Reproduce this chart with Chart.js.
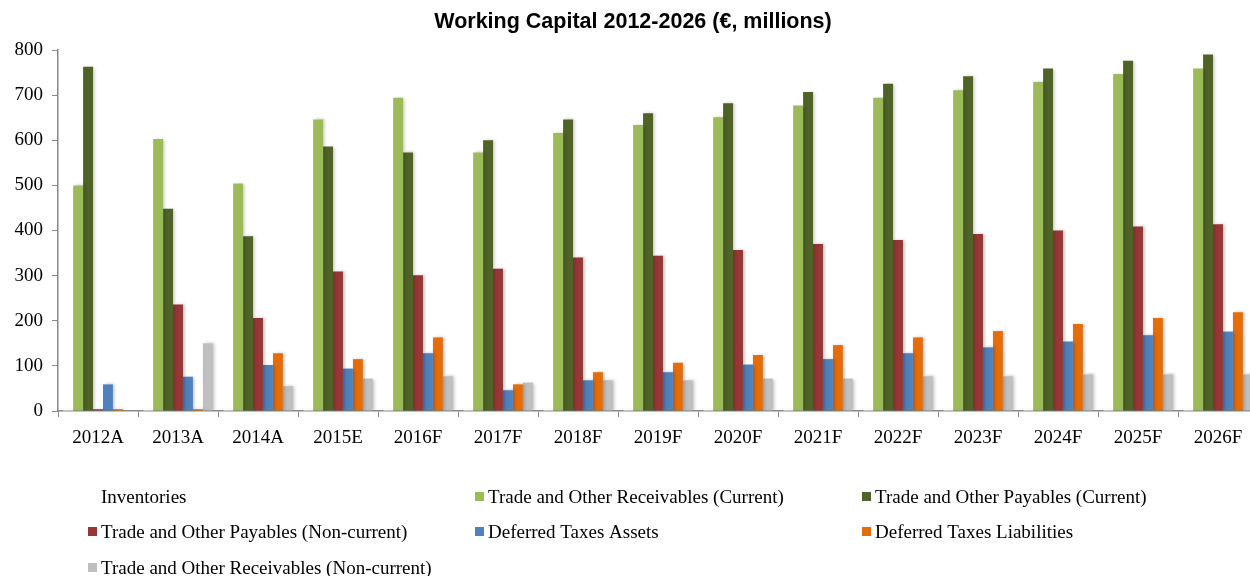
<!DOCTYPE html>
<html>
<head>
<meta charset="utf-8">
<title>Working Capital 2012-2026</title>
<script src="https://cdn.jsdelivr.net/npm/chart.js@4.4.1/dist/chart.umd.min.js"></script>
<style>
  html, body { margin: 0; padding: 0; background: #fff; overflow: hidden; }
  #wrap { width: 1262px; height: 576px; }
</style>
</head>
<body>
<div id="wrap"><canvas id="wcChart" width="1262" height="576"></canvas></div>
<script>
// years on the x axis
const years = ["2012A", "2013A", "2014A", "2015E", "2016F", "2017F", "2018F", "2019F",
  "2020F", "2021F", "2022F", "2023F", "2024F", "2025F", "2026F"];

// € millions per year
const inventories      = [3, 3, 3, 3, 3, 3, 3, 3, 3, 3, 3, 3, 3, 3, 3];
const receivablesCur   = [500, 603, 504, 646, 694, 573, 616, 634, 651, 677, 694, 711, 729, 747, 759];
const payablesCur      = [763, 448, 387, 586, 573, 600, 646, 660, 682, 707, 725, 742, 759, 776, 790];
const payablesNonCur   = [4, 236, 206, 309, 301, 315, 340, 344, 357, 370, 379, 392, 400, 409, 414];
const taxAssets        = [59, 76, 102, 94, 128, 46, 68, 86, 103, 115, 128, 141, 154, 168, 176];
const taxLiabilities   = [4, 4, 128, 115, 163, 59, 86, 107, 124, 146, 163, 177, 193, 206, 219];
const receivablesNonCur = [0, 150, 55, 72, 77, 63, 68, 68, 72, 72, 77, 77, 81, 81, 81];

const yTicks = { min: 0, max: 800, step: 100 };

const series = [
  { label: "Inventories", data: inventories, color: "#ffffff" },
  { label: "Trade and Other Receivables (Current)", data: receivablesCur, color: "#9bbb59" },
  { label: "Trade and Other Payables (Current)", data: payablesCur, color: "#4f6228" },
  { label: "Trade and Other Payables (Non-current)", data: payablesNonCur, color: "#953735" },
  { label: "Deferred Taxes Assets", data: taxAssets, color: "#4f81bd" },
  { label: "Deferred Taxes Liabilities", data: taxLiabilities, color: "#e46c0a" },
  { label: "Trade and Other Receivables (Non-current)", data: receivablesNonCur, color: "#bfbfbf" }
];

const serif = "'Liberation Serif', 'Times New Roman', serif";

// soft drop shadow behind the bars
const barShadow = {
  id: "barShadow",
  beforeDatasetsDraw(chart) {
    const ctx = chart.ctx;
    ctx.save();
    ctx.shadowColor = "rgba(0,0,0,0.22)";
    ctx.shadowBlur = 3;
    ctx.shadowOffsetX = 2;
    ctx.shadowOffsetY = 0;
  },
  afterDatasetsDraw(chart) {
    chart.ctx.restore();
  }
};

// title + three-column legend under the axis
const titleAndLegend = {
  id: "titleAndLegend",
  afterDraw(chart) {
    const ctx = chart.ctx;
    ctx.save();
    ctx.fillStyle = "#000";
    ctx.font = "bold 21.5px 'Liberation Sans', Arial, sans-serif";
    ctx.textAlign = "center";
    ctx.textBaseline = "middle";
    ctx.fillText("Working Capital 2012-2026 (€, millions)", 633, 22);

    const colBox = [88, 475, 862];
    const rowY = [496, 531, 567];
    ctx.font = "19px " + serif;
    ctx.textAlign = "left";
    chart.data.datasets.forEach((ds, i) => {
      const c = i % 3, r = Math.floor(i / 3);
      const x = colBox[c], y = rowY[r] + 2;
      ctx.fillStyle = ds.backgroundColor;
      ctx.fillRect(x, y - 6, 9, 9);
      ctx.fillStyle = "#000";
      ctx.fillText(ds.label, x + 13, y);
    });
    ctx.restore();
  }
};

new Chart(document.getElementById("wcChart"), {
  type: "bar",
  data: {
    labels: years,
    datasets: series.map(s => ({
      label: s.label,
      data: s.data,
      backgroundColor: s.color,
      borderWidth: 0,
      categoryPercentage: 0.87,
      barPercentage: 1.0
    }))
  },
  options: {
    responsive: false,
    animation: false,
    layout: { padding: { top: 50, left: 0, right: 4, bottom: 115 } },
    plugins: {
      legend: { display: false },
      title: { display: false },
      tooltip: { enabled: false }
    },
    scales: {
      x: {
        grid: { offset: true, drawOnChartArea: false, tickLength: 6, color: "#888" },
        border: { color: "#888", width: 1.5 },
        ticks: { color: "#000", font: { family: serif, size: 19 }, padding: 10, maxRotation: 0 },
        afterFit(s) { s.height = 50; }
      },
      y: {
        min: yTicks.min,
        max: yTicks.max,
        ticks: { stepSize: yTicks.step, color: "#000", font: { family: serif, size: 19 }, padding: 9 },
        grid: { drawOnChartArea: false, tickLength: 6, color: "#888" },
        border: { color: "#888", width: 1.5 },
        afterFit(s) { s.width = 58; }
      }
    }
  },
  plugins: [barShadow, titleAndLegend]
});
</script>
</body>
</html>
